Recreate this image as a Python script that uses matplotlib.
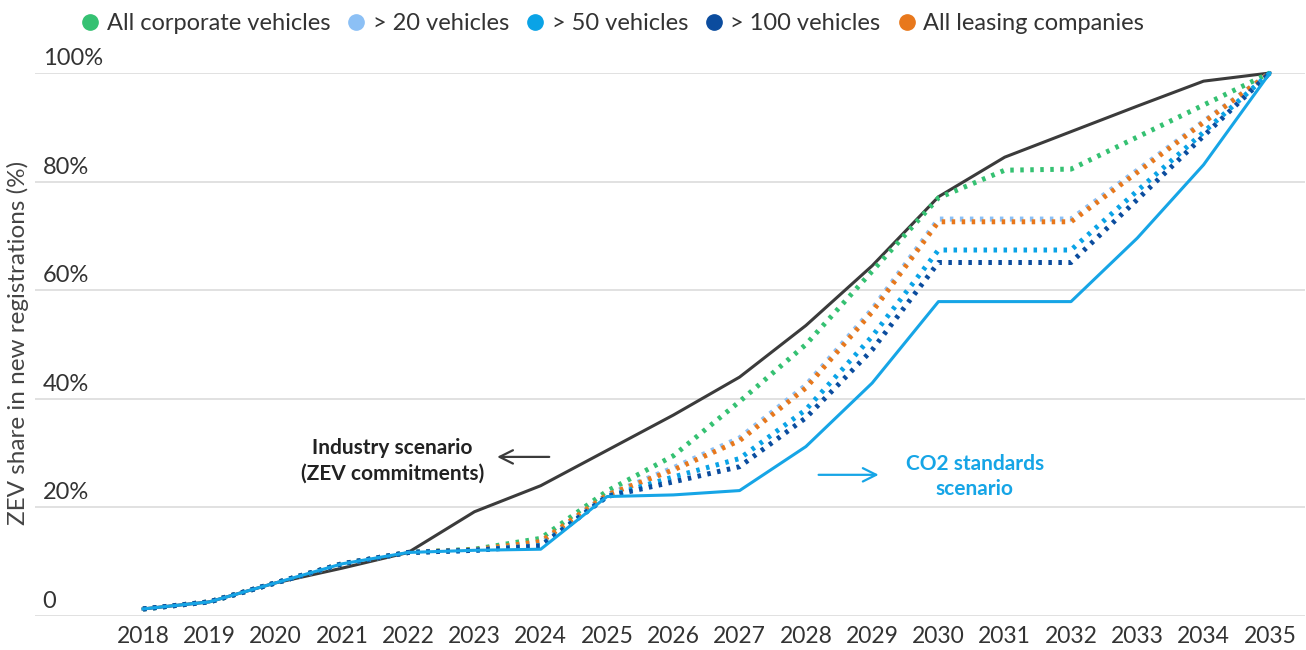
import numpy as np
import matplotlib.pyplot as plt
from matplotlib.lines import Line2D

plt.rcParams['font.family'] = ['Lato', 'DejaVu Sans']

years = np.arange(2018, 2036)

# ZEV share in new registrations (%)
industry = [1.3, 2.6, 6.1, 8.8, 11.7, 19.2, 24.0, 30.5, 37.0, 44.0, 53.5, 64.5,
            77.2, 84.5, 89.2, 93.9, 98.5, 100]
all_corporate = [1.3, 2.6, 6.1, 9.6, 11.7, 12.3, 14.3, 23.0, 29.5, 39.5, 50.0, 63.5,
                 77.0, 82.1, 82.3, 88.2, 94.1, 100]
over_20 = [1.3, 2.6, 6.1, 9.6, 11.7, 12.1, 13.4, 22.3, 27.3, 32.8, 42.5, 56.5,
           73.1, 73.1, 73.1, 82.1, 91.1, 100]
leasing = [1.3, 2.6, 6.1, 9.6, 11.7, 12.2, 13.7, 22.3, 26.9, 32.3, 42.0, 56.0,
           72.6, 72.6, 72.6, 81.7, 90.9, 100]
over_50 = [1.3, 2.6, 6.1, 9.6, 11.7, 12.1, 13.0, 22.0, 25.6, 29.0, 38.0, 51.5,
           67.4, 67.4, 67.4, 78.3, 89.1, 100]
over_100 = [1.3, 2.6, 6.1, 9.6, 11.7, 12.1, 12.9, 22.0, 24.7, 27.5, 36.5, 49.0,
            65.1, 65.1, 65.1, 76.7, 88.4, 100]
co2_standards = [1.3, 2.6, 6.1, 9.6, 11.7, 12.1, 12.3, 22.0, 22.3, 23.1, 31.2, 42.9,
                 57.9, 57.9, 57.9, 69.6, 83.1, 100]

c_green = '#35c172'
c_light = '#8cc0f5'
c_cyan = '#0aa3e6'
c_dark = '#0b4c9e'
c_orange = '#e8781c'
c_black = '#3b3b3b'
c_solid = '#16a5e6'

fig = plt.figure(figsize=(13.06, 6.5), dpi=100)
ax = fig.add_axes([35 / 1306, 34 / 650, 1270 / 1306, (616 - 73) / 650])

ax.plot(years, industry, color=c_black, lw=2.2, clip_on=False, zorder=3)
dot = dict(lw=3.6, linestyle=(0, (0.7, 1.3)), dash_capstyle='butt', clip_on=False)
ax.plot(years, all_corporate, color=c_green, zorder=4, **dot)
ax.plot(years, over_20, color=c_light, zorder=4, **dot)
ax.plot(years, leasing, color=c_orange, zorder=5, **dot)
ax.plot(years, over_50, color=c_cyan, zorder=5, **dot)
ax.plot(years, over_100, color=c_dark, zorder=5, **dot)
ax.plot(years, co2_standards, color=c_solid, lw=2.2, clip_on=False, zorder=6)

ax.set_xlim(2016.37, 2035.53)
ax.set_ylim(0, 100)
ax.set_xticks(years)
ax.set_xticklabels([str(y) for y in years])
ax.tick_params(axis='x', length=0, pad=7, labelsize=16.5, labelcolor='#333333')
ax.set_yticks([0, 20, 40, 60, 80, 100])
ax.set_yticklabels([])
ax.tick_params(axis='y', length=0)
ax.grid(axis='y', color='#dcdcdc', lw=1.2)
ax.set_axisbelow(True)
for s in ax.spines.values():
    s.set_visible(False)

# y labels sit above the gridlines
for v in [0, 20, 40, 60, 80, 100]:
    txt = '0' if v == 0 else f'{v}%'
    ax.annotate(txt, xy=(0, v), xycoords=('axes fraction', 'data'),
                xytext=(5.5 if v else 5, 10.5), textcoords='offset points',
                ha='left', va='center', fontsize=17, color='#333333')

fig.text(18 / 1306, 1 - 343 / 650, 'ZEV share in new registrations (%)',
         rotation=90, ha='center', va='center', fontsize=17.5, color='#444444')

ax.text(2021.76, 28.6, 'Industry scenario\n(ZEV commitments)', ha='center', va='center',
        fontsize=15, fontweight='bold', color='#222222', linespacing=1.35)
ax.annotate('', xy=(2023.3, 29.3), xytext=(2024.17, 29.3),
            arrowprops=dict(arrowstyle='->', color=c_black, lw=1.6, mutation_scale=24))
ax.text(2030.55, 25.7, 'CO2 standards\nscenario', ha='center', va='center',
        fontsize=15, fontweight='bold', color=c_solid, linespacing=1.35)
ax.annotate('', xy=(2029.14, 26.0), xytext=(2028.15, 26.0),
            arrowprops=dict(arrowstyle='->', color=c_solid, lw=1.6, mutation_scale=24))

labels = ['All corporate vehicles', '> 20 vehicles', '> 50 vehicles', '> 100 vehicles',
          'All leasing companies']
colors = [c_green, c_light, c_cyan, c_dark, c_orange]
handles = [Line2D([], [], marker='o', linestyle='', markersize=11, color=c) for c in colors]
fig.legend(handles, labels, loc='center', bbox_to_anchor=(610 / 1306, 1 - 24 / 650),
           ncol=5, frameon=False, fontsize=17, handletextpad=0.1, columnspacing=0.5,
           handlelength=1.2, labelcolor='#333333')

fig.savefig('out.png', dpi=100)
